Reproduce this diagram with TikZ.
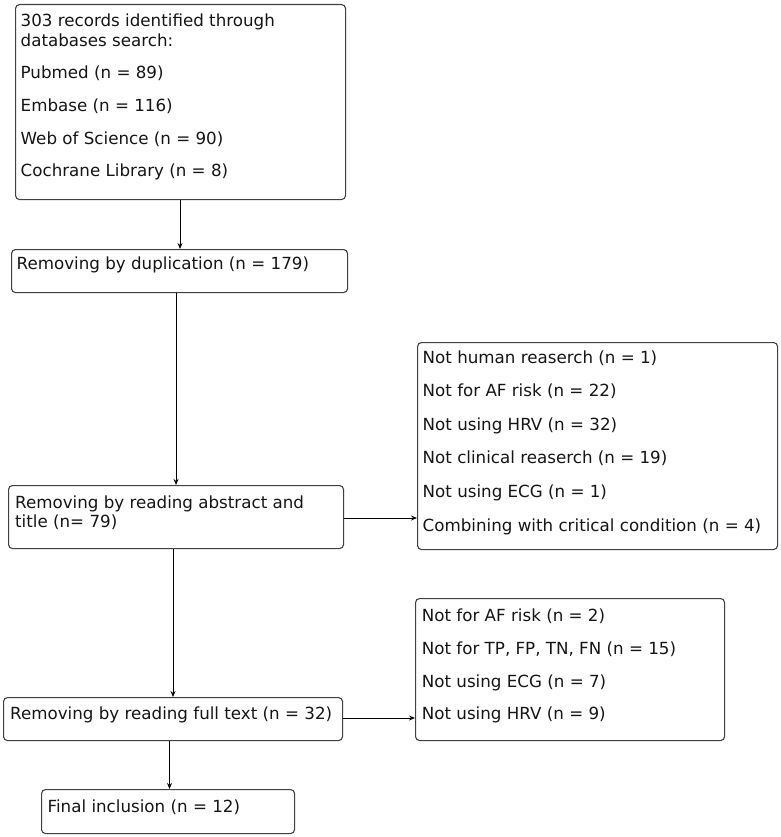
\documentclass[tikz,border=0pt]{standalone}
\usepackage{fontspec}
\setmainfont{DejaVu Sans}
\usetikzlibrary{arrows.meta}
\definecolor{boxline}{HTML}{404040}
\definecolor{txt}{HTML}{151515}
\tikzset{
  box/.style={draw=boxline, line width=1.1pt, rounded corners=4pt, inner sep=0pt, anchor=north west},
  lbl/.style={anchor=base west, inner sep=0pt, text=txt, font=\fontsize{16.7}{20}\selectfont},
  arr/.style={draw=black, line width=0.9pt, -{Stealth[length=6pt,width=5pt]}}
}
\begin{document}
\begin{tikzpicture}[x=1pt,y=-1pt]
\useasboundingbox (0,0) rectangle (780,837);
% boxes
\node[box, minimum width=330pt, minimum height=195pt] (b1) at (15,4) {};
\node[box, minimum width=336pt, minimum height=43pt] (b2) at (11,249) {};
\node[box, minimum width=335pt, minimum height=63pt] (b3) at (8,485) {};
\node[box, minimum width=339pt, minimum height=43pt] (b4) at (3,697) {};
\node[box, minimum width=253pt, minimum height=44pt] (b5) at (41,789) {};
\node[box, minimum width=360pt, minimum height=207pt] (ba) at (417,342) {};
\node[box, minimum width=309pt, minimum height=142pt] (bb) at (415,598) {};
% texts
\node[lbl] (t11) at (20.5,26.7) {303 records identified through};
\node[lbl] (t12) at (20.5,46.7) {databases search:};
\node[lbl] (t13) at (20.5,79) {Pubmed (n = 89)};
\node[lbl] (t14) at (20.5,112) {Embase (n = 116)};
\node[lbl] (t15) at (20.5,144.5) {Web of Science (n = 90)};
\node[lbl] (t16) at (20.5,177) {Cochrane Library (n = 8)};
\node[lbl] (t21) at (16.5,269) {Removing by duplication (n = 179)};
\node[lbl] (t31) at (15,508) {Removing by reading abstract and};
\node[lbl] (t32) at (15,527.5) {title (n= 79)};
\node[lbl] (t41) at (10,719) {Removing by reading full text (n = 32)};
\node[lbl] (t51) at (47.5,812) {Final inclusion (n = 12)};
\node[lbl] (ta1) at (422.5,363.3) {Not human reaserch (n = 1)};
\node[lbl] (ta2) at (422.5,396.8) {Not for AF risk (n = 22)};
\node[lbl] (ta3) at (422.5,430.3) {Not using HRV (n = 32)};
\node[lbl] (ta4) at (422.5,463.8) {Not clinical reaserch (n = 19)};
\node[lbl] (ta5) at (422.5,497.3) {Not using ECG (n = 1)};
\node[lbl] (ta6) at (422.5,531) {Combining with critical condition (n = 4)};
\node[lbl] (tb1) at (421.7,621) {Not for AF risk (n = 2)};
\node[lbl] (tb2) at (421.7,654.2) {Not for TP, FP, TN, FN (n = 15)};
\node[lbl] (tb3) at (421.7,687) {Not using ECG (n = 7)};
\node[lbl] (tb4) at (421.7,719.5) {Not using HRV (n = 9)};
% arrows
\draw[arr] (b1.south -| 180,0) -- (b2.north -| 180,0);
\draw[arr] (b2.south -| 176,0) -- (b3.north -| 176,0);
\draw[arr] (b3.south -| 173,0) -- (b4.north -| 173,0);
\draw[arr] (b4.south -| 169.5,0) -- (b5.north -| 169.5,0);
\draw[arr] (b3.east |- 0,518) -- (ba.west |- 0,518);
\draw[arr] (b4.east |- 0,718) -- (bb.west |- 0,718);
\end{tikzpicture}
\end{document}
